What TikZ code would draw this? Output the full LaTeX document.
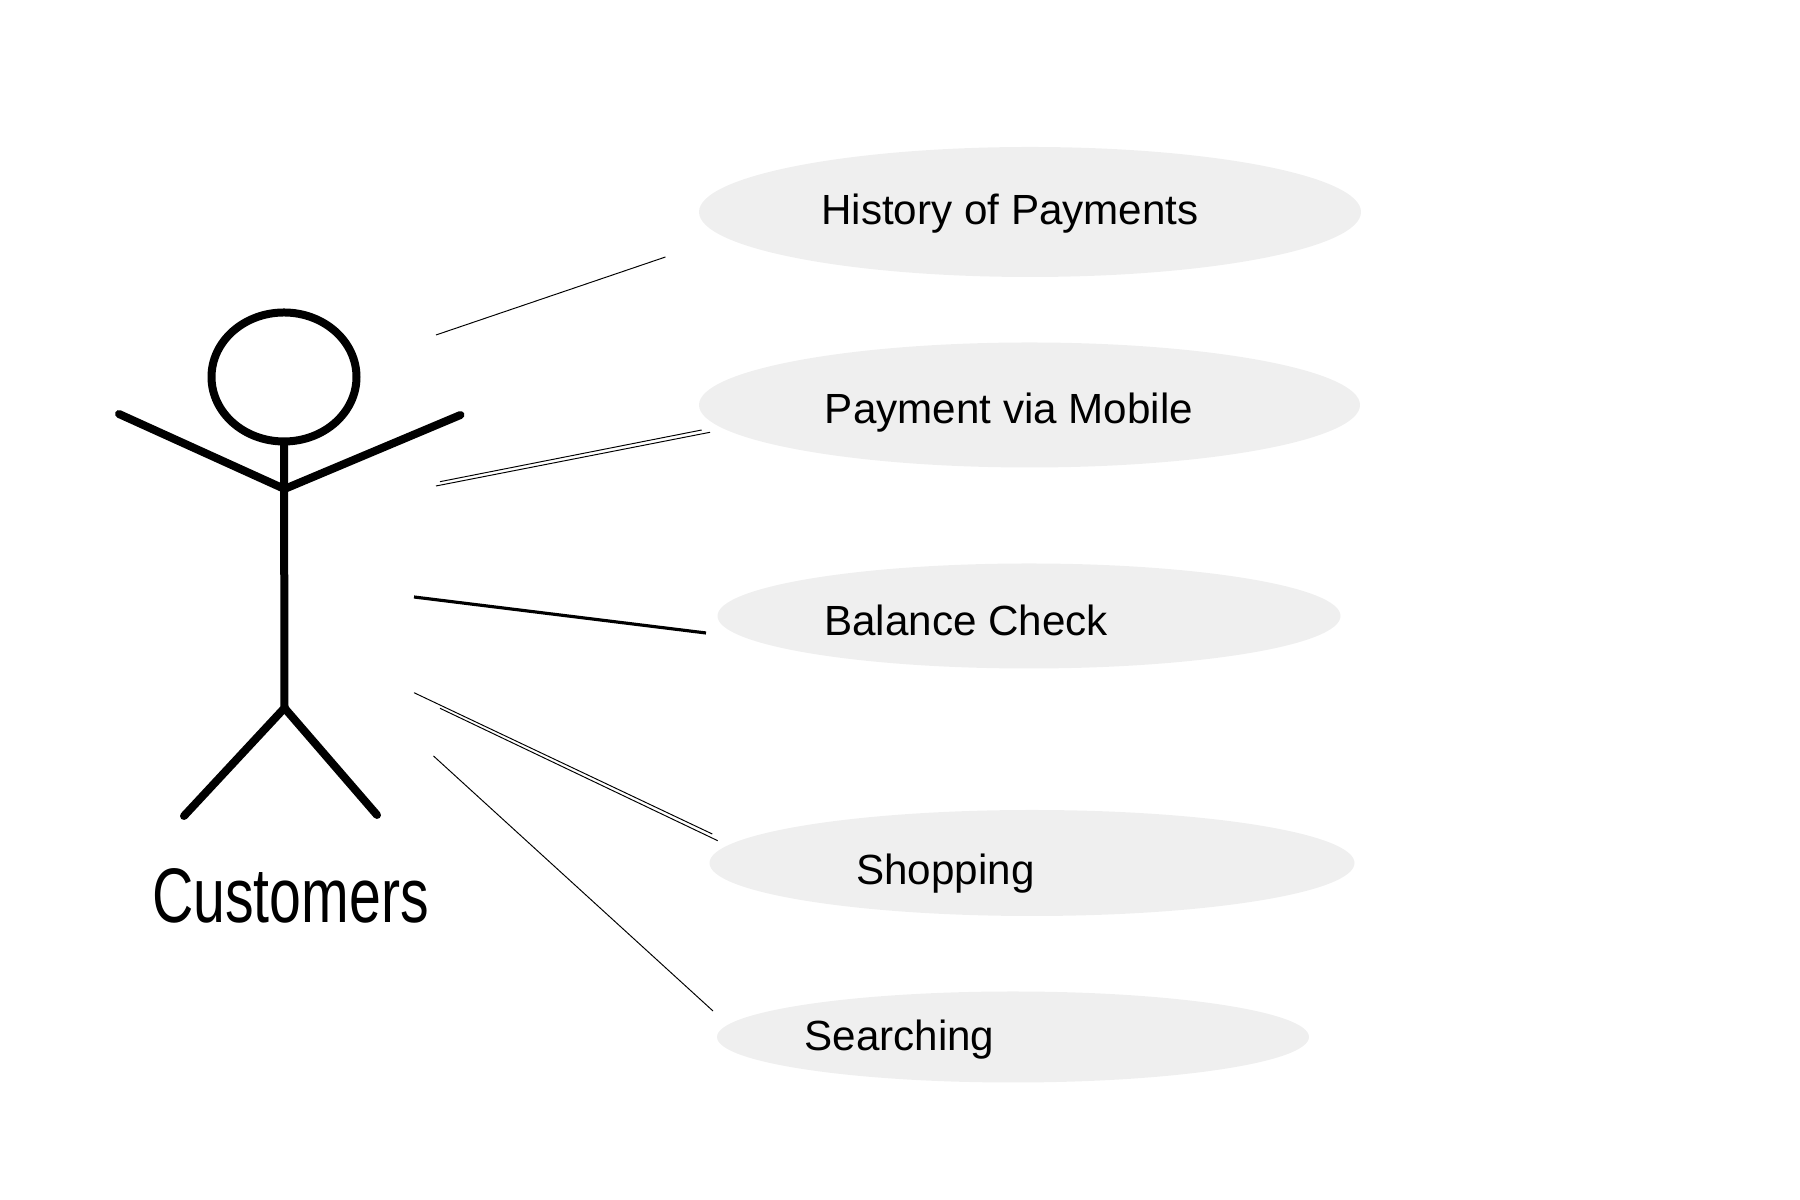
\documentclass[tikz,border=0pt]{standalone}
\usepackage{fontspec}
\setmainfont{Liberation Sans}
\usetikzlibrary{shapes.geometric}
\definecolor{casefill}{HTML}{EFEFEF}
\tikzset{%
    limb/.style={line width = 0.16cm, line cap=round, line join=round},
    thn/.style={line width = 0.55pt},
    thk/.style={line width = 1.8pt},
    usecase/.style={ellipse, fill=casefill, inner sep=0pt},
    lab/.style={anchor=base, inner sep=0pt, font=\fontsize{24}{29}\selectfont},
}

\begin{document}
\begin{tikzpicture}
    \useasboundingbox (0,0) rectangle (36,24);
    \node [usecase, minimum width=13.24cm, minimum height=2.6cm] (history) at (20.6,19.76) {};
    \node [usecase, minimum width=13.22cm, minimum height=2.5cm] (mobile) at (20.59,15.9) {};
    \node [usecase, minimum width=12.46cm, minimum height=2.1cm] (balance) at (20.58,11.68) {};
    \node [usecase, minimum width=12.9cm, minimum height=2.12cm] (shopping) at (20.64,6.74) {};
    \node [usecase, minimum width=11.84cm, minimum height=1.82cm] (searching) at (20.26,3.26) {};
    \node [lab] (historylab) at (20.2,19.5) {History of Payments};
    \node [lab] (mobilelab) at (20.18,15.52) {Payment via Mobile};
    \node [lab] (balancelab) at (19.32,11.28) {Balance Check};
    \node [lab] (shoppinglab) at (18.91,6.3) {Shopping};
    \node [lab] (searchinglab) at (17.99,2.98) {Searching};
    % stick figure
    \node [ellipse, draw, line width=0.16cm, minimum width=2.9cm, minimum height=2.58cm, inner sep=0pt] (head) at (5.68,16.46) {};
    \coordinate (J) at (5.69,14.22);
    \coordinate (H) at (5.69,9.84);
    \coordinate (LH) at (2.38,15.72);
    \coordinate (RH) at (9.21,15.7);
    \coordinate (LF) at (3.68,7.68);
    \coordinate (RF) at (7.54,7.7);
    \draw [limb](head.south)--(H);
    \draw [limb](LH)--(J)--(RH);
    \draw [limb](LF)--(H)--(RF);
    \node [anchor=base, inner sep=0pt, xscale=0.74, font=\fontsize{44}{53}\selectfont] (customers) at (5.81,5.55) {Customers};
    % connectors
    \coordinate (A1) at (8.72,17.3);
    \coordinate (A2) at (13.31,18.86);
    \coordinate (B1) at (8.72,14.28);
    \coordinate (B2) at (14.2,15.354);
    \coordinate (C1) at (8.8,14.366);
    \coordinate (C2) at (14.034,15.4);
    \coordinate (D1) at (8.28,12.06);
    \coordinate (D2) at (14.12,11.34);
    \coordinate (E1) at (8.28,10.146);
    \coordinate (E2) at (14.246,7.32);
    \coordinate (F1) at (8.8,9.834);
    \coordinate (F2) at (14.354,7.186);
    \coordinate (G1) at (8.67,8.88);
    \coordinate (G2) at (14.26,3.78);
    \draw [thn](A1)--(A2);
    \draw [thn](B1)--(B2);
    \draw [thn](C1)--(C2);
    \draw [thk](D1)--(D2);
    \draw [thn](E1)--(E2);
    \draw [thn](F1)--(F2);
    \draw [thn](G1)--(G2);
\end{tikzpicture}
\end{document}
